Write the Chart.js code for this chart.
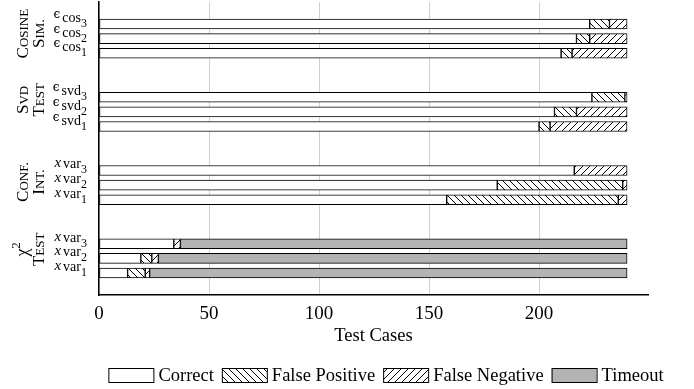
<!DOCTYPE html>
<html>
<head>
<meta charset="utf-8">
<script src="https://cdn.jsdelivr.net/npm/chart.js@4.4.0/dist/chart.umd.min.js"></script>
<style>
  html, body { margin: 0; padding: 0; background: #fff; }
  #wrap { width: 694px; height: 389px; }
</style>
</head>
<body>
<div id="wrap"><canvas id="chart" width="694" height="389"></canvas></div>
<script>
// rows top to bottom, "" = empty slot between groups
const categories = ["", "ϵcos_3", "ϵcos_2", "ϵcos_1", "", "", "ϵsvd_3", "ϵsvd_2", "ϵsvd_1", "", "",
  "xvar_3", "xvar_2", "xvar_1", "", "", "xvar_3", "xvar_2", "xvar_1", ""];

const correct       = [null, 223, 217, 210, null, null, 224, 207, 200, null, null, 216, 181, 158, null, null, 34, 19, 13, null];
const falsePositive = [null, 9, 6, 5, null, null, 15, 10, 5, null, null, null, 57, 78, null, null, null, 5, 8, null];
const falseNegative = [null, 8, 17, 25, null, null, 1, 23, 35, null, null, 24, 2, 4, null, null, 3, 3, 2, null];
const timeout       = [null, null, null, null, null, null, null, null, null, null, null, null, null, null, null, null, 203, 213, 217, null];

const groupLabels = [["Cosine", "Sim."], ["Svd", "Test"], ["Conf.", "Int."], ["χ^2", "Test"]];
const groupRows = [2, 7, 12, 17];

const xTicks = [0, 50, 100, 150, 200];

const SERIF = '"Liberation Serif", "Times New Roman", serif';

const canvas = document.getElementById("chart");
const ctx = canvas.getContext("2d");

function hatch(dir) {
  const s = 7;
  const c = document.createElement("canvas");
  c.width = s; c.height = s;
  const g = c.getContext("2d");
  g.fillStyle = "#fff";
  g.fillRect(0, 0, s, s);
  g.strokeStyle = "#000";
  g.lineWidth = 1;
  g.beginPath();
  for (const k of [-s, 0, s]) {
    if (dir === "nw") { g.moveTo(k, 0); g.lineTo(k + s, s); }
    else { g.moveTo(k, s); g.lineTo(k + s, 0); }
  }
  g.stroke();
  return ctx.createPattern(c, "repeat");
}

// draws small-caps text centred on (cx, cy) in the current frame
function smallCaps(g, txt, cx, cy) {
  let parts;
  if (txt.includes("^")) {
    const [a, b] = txt.split("^");
    parts = [{ t: a, f: "18px " + SERIF, dy: 0 }, { t: b, f: "13px " + SERIF, dy: -8 }];
  } else {
    parts = [{ t: txt[0], f: "17px " + SERIF, dy: 0 }, { t: txt.slice(1).toUpperCase(), f: "13px " + SERIF, dy: 0 }];
  }
  let w = 0;
  parts.forEach(p => { g.font = p.f; p.w = g.measureText(p.t).width; w += p.w; });
  let x = cx - w / 2;
  parts.forEach(p => { g.font = p.f; g.fillText(p.t, x, cy + p.dy); x += p.w; });
}

const labelPlugin = {
  id: "labels",
  afterDraw(chart) {
    const g = chart.ctx, y = chart.scales.y;
    const right = chart.chartArea.left - 12;
    g.save();
    g.fillStyle = "#000";
    g.textBaseline = "alphabetic";
    g.textAlign = "left";

    // row labels like  ϵ cos _3
    categories.forEach((lab, i) => {
      if (!lab) return;
      const [head, sub] = lab.split("_");
      const sym = head[0], name = head.slice(1);
      const base = y.getPixelForValue(i) - 2;
      const symFont = sym === "x" ? "italic 15px " + SERIF : '12px "DejaVu Serif", ' + SERIF;
      const symRaise = sym === "x" ? 1 : 4;
      const mainFont = "14px " + SERIF, subFont = "12px " + SERIF;
      g.font = subFont; const wSub = g.measureText(sub).width;
      g.font = mainFont; const wName = g.measureText(name).width;
      g.font = symFont; const wSym = g.measureText(sym).width;
      let x = right - wSub - wName - wSym - 2;
      g.fillText(sym, x, base - symRaise);
      x += wSym + 2;
      g.font = mainFont; g.fillText(name, x, base);
      x += wName;
      g.font = subFont; g.fillText(sub, x, base + 5);
    });

    // rotated group labels
    const shift = [-5, -12, -3, -9];
    groupLabels.forEach((lines, k) => {
      const cy = y.getPixelForValue(groupRows[k]) + shift[k];
      lines.forEach((txt, li) => {
        const cx = li === 0 ? 22 : 38;
        g.save();
        g.translate(cx, cy);
        g.rotate(-Math.PI / 2);
        smallCaps(g, txt, 0, 5.5);
        g.restore();
      });
    });

    // legend
    const items = chart.data.datasets;
    const boxW = 45, boxH = 14, gapIn = 5, gapOut = 8;
    g.font = "18.5px " + SERIF;
    let total = 0;
    items.forEach((d, i) => { total += boxW + gapIn + g.measureText(d.label).width + (i < items.length - 1 ? gapOut : 0); });
    let lx = 386 - total / 2;
    const ly = 375;
    items.forEach(d => {
      g.fillStyle = d.backgroundColor;
      g.fillRect(lx, ly - boxH / 2, boxW, boxH);
      g.strokeStyle = "#000";
      g.lineWidth = 1;
      g.strokeRect(lx + 0.5, ly - boxH / 2 + 0.5, boxW, boxH);
      lx += boxW + gapIn;
      g.fillStyle = "#000";
      g.fillText(d.label, lx, ly + 6);
      lx += g.measureText(d.label).width + gapOut;
    });
    g.restore();
  }
};

function series(label, data, color) {
  return {
    label: label,
    data: data,
    backgroundColor: color,
    borderColor: "#000",
    borderWidth: 1,
    borderSkipped: false,
    barThickness: 10
  };
}

new Chart(ctx, {
  type: "bar",
  data: {
    labels: categories,
    datasets: [
      series("Correct", correct, "#fff"),
      series("False Positive", falsePositive, hatch("nw")),
      series("False Negative", falseNegative, hatch("ne")),
      series("Timeout", timeout, "#b3b3b3")
    ]
  },
  options: {
    indexAxis: "y",
    responsive: false,
    animation: false,
    devicePixelRatio: 1,
    layout: { padding: { top: 2, bottom: 42, left: 0, right: 46 } },
    plugins: {
      legend: { display: false },
      tooltip: { enabled: false }
    },
    scales: {
      y: {
        stacked: true,
        grid: { display: false },
        ticks: { display: false },
        border: { display: true, color: "#000", width: 1.5 },
        afterFit: s => { s.width = 99; }
      },
      x: {
        stacked: true,
        min: 0,
        max: 249.5,
        afterBuildTicks: s => { s.ticks = xTicks.map(v => ({ value: v })); },
        afterFit: s => { s.height -= 11; },
        grid: { color: "#d0d0d0", lineWidth: 1, drawTicks: false },
        border: { display: true, color: "#000", width: 1.5 },
        ticks: { color: "#000", font: { family: SERIF, size: 19 }, padding: 8 },
        title: {
          display: true,
          text: "Test Cases",
          color: "#000",
          font: { family: SERIF, size: 18.5 },
          padding: { top: 2, bottom: 0 }
        }
      }
    }
  },
  plugins: [labelPlugin]
});
</script>
</body>
</html>
